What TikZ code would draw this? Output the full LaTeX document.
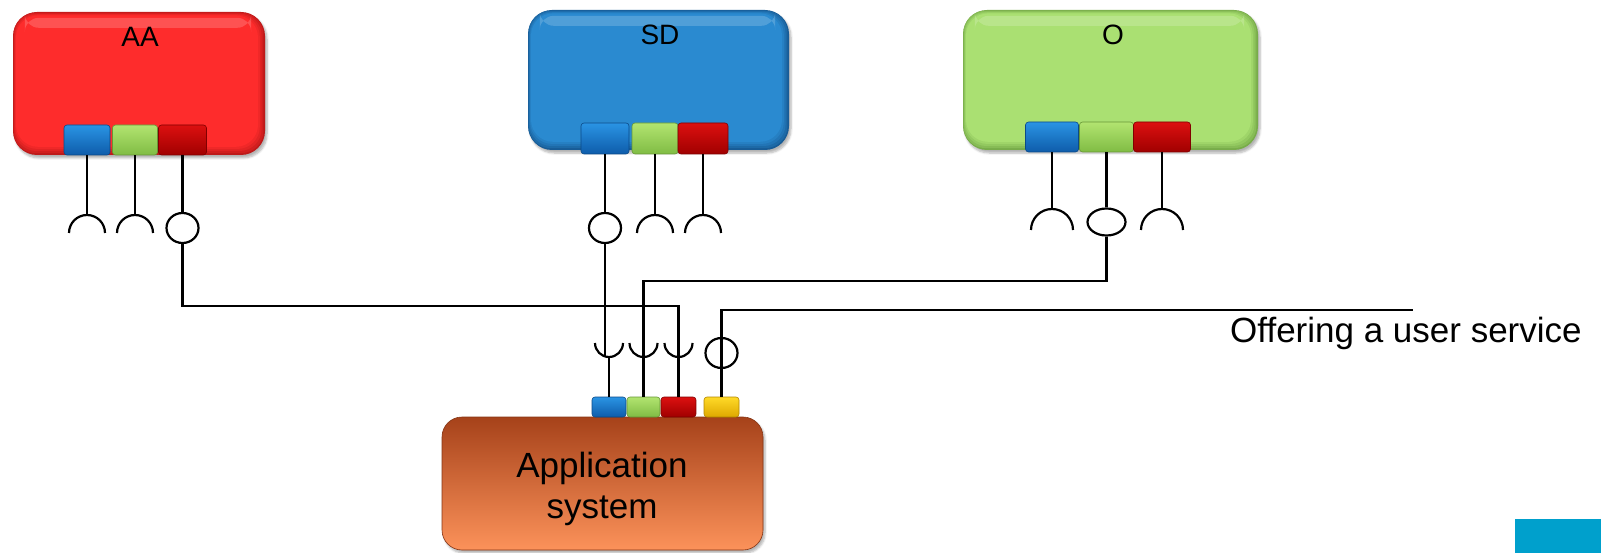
\documentclass[tikz,border=0pt]{standalone}
\usepackage{fontspec}
\setmainfont{Liberation Sans}
\usetikzlibrary{shapes.geometric,shadows.blur}
\definecolor{aaMain}{RGB}{254,44,44}
\definecolor{aaEdge}{RGB}{190,26,26}
\definecolor{sdMain}{RGB}{42,138,208}
\definecolor{sdEdge}{RGB}{24,92,150}
\definecolor{oMain}{RGB}{170,224,114}
\definecolor{oEdge}{RGB}{120,172,74}
\definecolor{appTop}{RGB}{166,66,26}
\definecolor{appBot}{RGB}{252,146,90}
\definecolor{pbT}{RGB}{42,148,228}
\definecolor{pbB}{RGB}{14,92,170}
\definecolor{pgT}{RGB}{178,228,112}
\definecolor{pgB}{RGB}{128,188,68}
\definecolor{prT}{RGB}{220,16,16}
\definecolor{prB}{RGB}{160,0,0}
\definecolor{pyT}{RGB}{255,218,40}
\definecolor{pyB}{RGB}{222,168,0}
\definecolor{cornerBlue}{RGB}{0,160,204}
\newcommand{\bevelfill}[3]{%
  \foreach \i/\m in {1/30,2/55,3/78,4/100}{%
    \fill[#3!\m!#2, rounded corners=22pt]
      ([shift={({\i*0.8pt},{-\i*0.9pt})}]#1.north west) rectangle
      ([shift={({-\i*1.8pt},{\i*2.1pt})}]#1.south east);
  }%
  \fill[white, opacity=0.18, rounded corners=14pt]
      ([shift={(12pt,-6pt)}]#1.north west) rectangle ([shift={(-14pt,-16pt)}]#1.north east);
}
\begin{document}
\begin{tikzpicture}[x=1pt,y=-1pt,
  box/.style={rounded corners=24pt, inner sep=0pt,
    blur shadow={shadow xshift=2pt,shadow yshift=-3pt,shadow blur steps=6,shadow opacity=30}},
  port/.style={rounded corners=3pt, inner sep=0pt, shading=axis, line width=0.6pt},
  pB/.style={port, top color=pbT, bottom color=pbB, draw=pbB!80!black},
  pG/.style={port, top color=pgT, bottom color=pgB, draw=pgB!80!black},
  pR/.style={port, top color=prT, bottom color=prB, draw=prB!80!black},
  pY/.style={port, top color=pyT, bottom color=pyB, draw=pyB!80!black},
  ball/.style={ellipse, draw, line width=2.2pt, inner sep=0pt},
  wire/.style={line width=2.2pt, black},
  title/.style={font=\fontsize{28}{34}\selectfont, anchor=base},
  pics/sockcap/.style={code={\draw[wire] (-#1,-#1) arc[start angle=180,end angle=0,radius=#1];}},
  pics/sockcup/.style={code={\draw[wire] (-#1,#1) arc[start angle=180,end angle=360,radius=#1];}}
]
\useasboundingbox (0,0) rectangle (1601,553);

% ---------- AA ----------
\node[box, fill=aaEdge, minimum width=252pt, minimum height=143pt] (aa) at (139,83.5) {};
\bevelfill{aa}{aaEdge}{aaMain}
\node[title] (aaT) at (140,47) {AA};
\node[pB, minimum width=46pt, minimum height=30pt] (aa1) at (87,140) {};
\node[pG, minimum width=45pt, minimum height=30pt] (aa2) at (135,140) {};
\node[pR, minimum width=48pt, minimum height=30pt] (aa3) at (182.5,140) {};

% ---------- SD ----------
\node[box, fill=sdEdge, minimum width=261pt, minimum height=140pt] (sd) at (658.5,80) {};
\bevelfill{sd}{sdEdge}{sdMain}
\node[title] (sdT) at (660,45) {SD};
\node[pB, minimum width=48pt, minimum height=31pt] (sd1) at (605,138.5) {};
\node[pG, minimum width=46pt, minimum height=31pt] (sd2) at (655,138.5) {};
\node[pR, minimum width=50pt, minimum height=31pt] (sd3) at (703,138.5) {};

% ---------- O ----------
\node[box, fill=oEdge, minimum width=295pt, minimum height=140pt] (o) at (1110.5,80) {};
\bevelfill{o}{oEdge}{oMain}
\node[title] (oT) at (1113,45) {O};
\node[pB, minimum width=53pt, minimum height=30pt] (o1) at (1052,137) {};
\node[pG, minimum width=54pt, minimum height=30pt] (o2) at (1106.5,137) {};
\node[pR, minimum width=57pt, minimum height=30pt] (o3) at (1162,137) {};

% ---------- Application system ----------
\node[box, rounded corners=20pt, top color=appTop, bottom color=appBot, draw=appTop!80!black, line width=0.6pt,
      minimum width=321pt, minimum height=133pt] (app) at (602.5,483.5) {};
\node[align=center, font=\fontsize{35}{41}\selectfont] (appT) at (602,489) {Application\\system};
\node[pB, minimum width=34pt, minimum height=20pt] (appB) at (609,407) {};
\node[pG, minimum width=33pt, minimum height=20pt] (appG) at (643.5,407) {};
\node[pR, minimum width=35pt, minimum height=20pt] (appR) at (678.5,407) {};
\node[pY, minimum width=35pt, minimum height=20pt] (appY) at (721.5,407) {};

% ---------- interface symbols ----------
\coordinate (aa1c) at (87,215);
\coordinate (aa2c) at (135,215);
\node[ball, minimum width=32pt, minimum height=30pt] (aa3b) at (182.5,228) {};
\node[ball, minimum width=32pt, minimum height=30pt] (sd1b) at (605,228) {};
\coordinate (sd2c) at (655,215);
\coordinate (sd3c) at (703,215);
\coordinate (o1c) at (1052,209);
\node[ball, minimum width=38pt, minimum height=27pt] (o2b) at (1106.5,222) {};
\coordinate (o3c) at (1162,209);

\draw[wire] (aa1.south) -- (aa1c);
\draw[wire] (aa2.south) -- (aa2c);
\draw[wire] (aa3.south) -- (aa3b.north);
\draw[wire] (sd1.south) -- (sd1b.north);
\draw[wire] (sd2.south) -- (sd2c);
\draw[wire] (sd3.south) -- (sd3c);
\draw[wire] (o1.south) -- (o1c);
\draw[wire] (o2.south) -- (o2b.north);
\draw[wire] (o3.south) -- (o3c);
\pic at (aa1c) {sockcap=18pt};
\pic at (aa2c) {sockcap=18pt};
\pic at (sd2c) {sockcap=18pt};
\pic at (sd3c) {sockcap=18pt};
\pic at (o1c) {sockcap=21pt};
\pic at (o3c) {sockcap=21pt};

% ---------- required interfaces of the application ----------
\coordinate (cupB) at (609,357);
\coordinate (cupG) at (643.5,357);
\coordinate (cupR) at (678.5,357);
\pic at (cupB) {sockcup=14pt};
\pic at (cupG) {sockcup=14pt};
\pic at (cupR) {sockcup=14pt};
\draw[wire] (appB.north) -- (cupB);
\coordinate (sdEnd) at (605,357);
\draw[wire] (sd1b.south) -- (sdEnd);

\coordinate (k1) at (182.5,306);
\draw[wire] (aa3b.south) -- (k1) -| (appR.north);
\coordinate (k2) at (1106.5,281);
\draw[wire] (o2b.south) -- (k2) -| (appG.north);

% ---------- offered interface ----------
\node[ball, minimum width=32pt, minimum height=30pt] (appYb) at (721.5,353) {};
\coordinate (k3) at (721.5,310);
\coordinate (offEnd) at (1413,310);
\draw[wire] (appY.north) -- (k3) -- (offEnd);
\node[anchor=base west, font=\fontsize{35}{41}\selectfont, inner sep=0pt] (off) at (1230,342) {Offering a user service};

\fill[cornerBlue] (1515,519) rectangle (1601,553);
\end{tikzpicture}
\end{document}
